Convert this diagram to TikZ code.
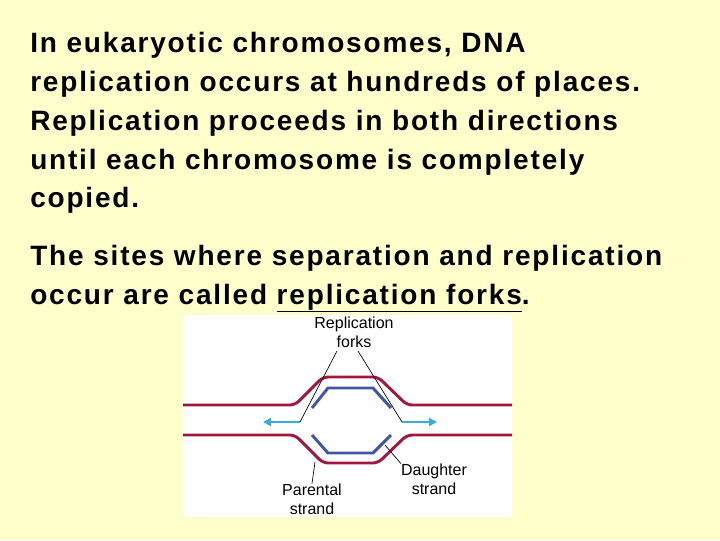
\documentclass[tikz,border=0pt]{standalone}
\usepackage{fontspec}
\setmainfont{Liberation Sans}
\newfontfamily\bodyfont[LetterSpace=6.5]{Liberation Sans}
\usetikzlibrary{arrows.meta}
\definecolor{bgyellow}{RGB}{255,255,204}
\definecolor{parentred}{RGB}{160,25,60}
\definecolor{daughterblue}{RGB}{65,85,165}
\definecolor{forkcyan}{RGB}{60,170,225}
\tikzstyle{draw:parental}=[parentred, line width=2.2pt, rounded corners=4pt]
\tikzstyle{draw:daughter}=[daughterblue, line width=2.2pt]
\tikzstyle{draw:direction}=[-{Triangle[length=6pt,width=6pt]}, forkcyan, line width=1.3pt]
\tikzstyle{draw:pointer}=[black, line width=0.5pt]
\tikzstyle{node:body}=[anchor=base west, font=\bodyfont\fontsize{21}{25}\selectfont\bfseries, inner sep=0pt]
\tikzstyle{node:label}=[font=\fontsize{12}{14}\selectfont, inner sep=0pt, align=center]
\begin{document}
\begin{tikzpicture}[x=0.75pt,y=-0.75pt]
        \useasboundingbox[fill=bgyellow] (0,0) rectangle (720,540);

        % Text lines
        \node[node:body] (T1) at (30,52) {In eukaryotic chromosomes, DNA};
        \node[node:body] (T2) at (30,91) {replication occurs at hundreds of places.};
        \node[node:body] (T3) at (30,130) {Replication proceeds in both directions};
        \node[node:body] (T4) at (30,169) {until each chromosome is completely};
        \node[node:body] (T5) at (30,207) {copied.};
        \node[node:body] (T6) at (30,265) {The sites where separation and replication};
        \node[node:body] (T7) at (30,304) {occur are called \underline{replication forks}.};

        % Figure panel
        \fill[white] (183,315) rectangle (512,517);

        % Parental strands
        \draw[draw:parental] (183,405) -- (295,405) -- (323,377) -- (378,377) -- (407,405) -- (512,405);
        \draw[draw:parental] (183,435) -- (295,435) -- (323,463) -- (378,463) -- (407,435) -- (512,435);

        % Daughter strands
        \draw[draw:daughter] (312,408) -- (328,388) -- (373,388) -- (391,408);
        \draw[draw:daughter] (312,435) -- (328,453) -- (373,453) -- (391,435);

        % Fork directions
        \coordinate (FL) at (300,422);
        \coordinate (FR) at (402,422);
        \coordinate (EL) at (263,422);
        \coordinate (ER) at (437,422);
        \draw[draw:direction] (FL) -- (EL);
        \draw[draw:direction] (FR) -- (ER);

        % Labels
        \node[node:label] (Lforks) at (354,332) {Replication\\forks};
        \node[node:label] (Ldaughter) at (434,479) {Daughter\\strand};
        \node[node:label] (Lparental) at (312,499) {Parental\\strand};
        \coordinate (PD) at (385,445);
        \coordinate (PP) at (315,462);
        \draw[draw:pointer] (337,351) -- (FL);
        \draw[draw:pointer] (358,351) -- (FR);
        \draw[draw:pointer] (PD) -- (Ldaughter.north west);
        \draw[draw:pointer] (PP) -- (Lparental.north);
    \end{tikzpicture}
\end{document}
